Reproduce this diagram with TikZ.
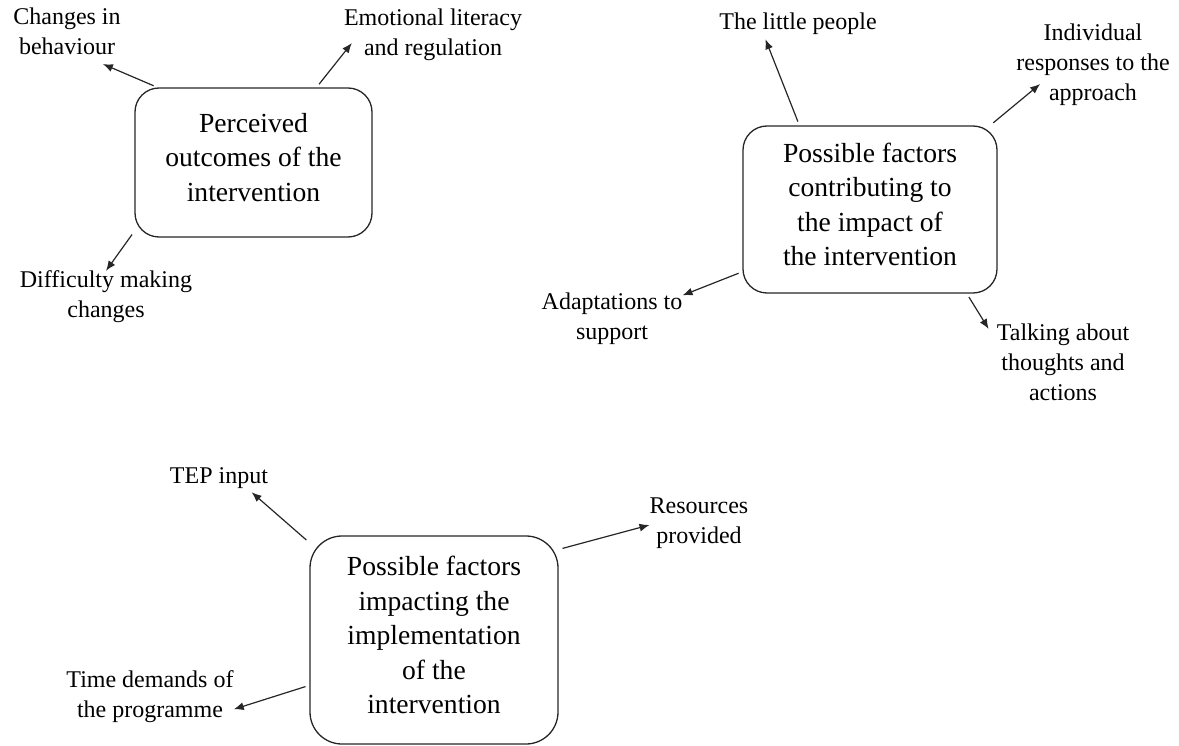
\documentclass[tikz,border=0pt]{standalone}
\usepackage{fontspec}
\setmainfont{Liberation Serif}
\usetikzlibrary{arrows.meta}
\tikzstyle{every node}=[font=\fontsize{24}{30}\selectfont]
\tikzstyle{theme}=[draw=black!85,
                   line width=1.3pt,
                   rounded corners=24pt,
                   align=center,
                   inner sep=0pt,
                   font=\fontsize{27.6}{34.5}\selectfont,
                   execute at begin node=\strut,
                   execute at end node=\strut]
\tikzstyle{subtheme}=[align=center,
                      inner sep=0pt,
                      execute at begin node=\strut,
                      execute at end node=\strut]
\tikzstyle{link}=[line width=1.2pt,
                  draw=black!85,
                  shorten <=4pt]

\begin{document}
\begin{tikzpicture}[x=1pt,y=-1pt,>={Latex[length=10pt,width=8pt]}]
\useasboundingbox (0,0) rectangle (1179,746);
% themes
\node (outcomes)  [theme,minimum width=237pt,minimum height=149pt] at (253.5,162.5) {Perceived\\outcomes of the\\intervention};
\node (contrib)   [theme,minimum width=254pt,minimum height=167pt] at (870,209.5) {Possible factors\\contributing to\\the impact of\\the intervention};
\node (implement) [theme,rounded corners=32pt,minimum width=248pt,minimum height=208pt] at (434,640) {Possible factors\\impacting the\\implementation\\of the\\intervention};
% subthemes
\node (behaviour)   [subtheme] at (67,36) {Changes in\\behaviour};
\node (literacy)    [subtheme] at (433,37) {Emotional literacy\\and regulation};
\node (difficulty)  [subtheme] at (106,299) {Difficulty making\\changes};
\node (people)      [subtheme] at (798,24) {The little people};
\node (responses)   [subtheme] at (1093,67) {Individual\\responses to the\\approach};
\node (adaptations) [subtheme] at (612,321) {Adaptations to\\support};
\node (talking)     [subtheme] at (1063,367) {Talking about\\thoughts and\\actions};
\node (tep)         [subtheme] at (219,477) {TEP input};
\node (resources)   [subtheme] at (699,525) {Resources\\provided};
\node (time)        [subtheme] at (150,699) {Time demands of\\the programme};
% links
\path[->] (outcomes.142) edge[link] (behaviour.-38);
\path[->] (outcomes.50) edge[link] ([shift={(8pt,-6pt)}]literacy.west);
\path[->] (outcomes.210) edge[link] (difficulty.north);
\path[->] (contrib.130) edge[link] (people.205);
\path[->] (contrib.35) edge[link] ([shift={(24pt,-17pt)}]responses.west);
\path[->] (contrib.206) edge[link] (adaptations.20);
\path[->] (contrib.-41) edge[link] ([shift={(-8pt,38pt)}]talking.west);
\path[->] (implement.142) edge[link] (tep.-25);
\path[->] (implement.36) edge[link] (resources.west);
\path[->] (implement.200) edge[link] (time.-7);
\end{tikzpicture}
\end{document}
